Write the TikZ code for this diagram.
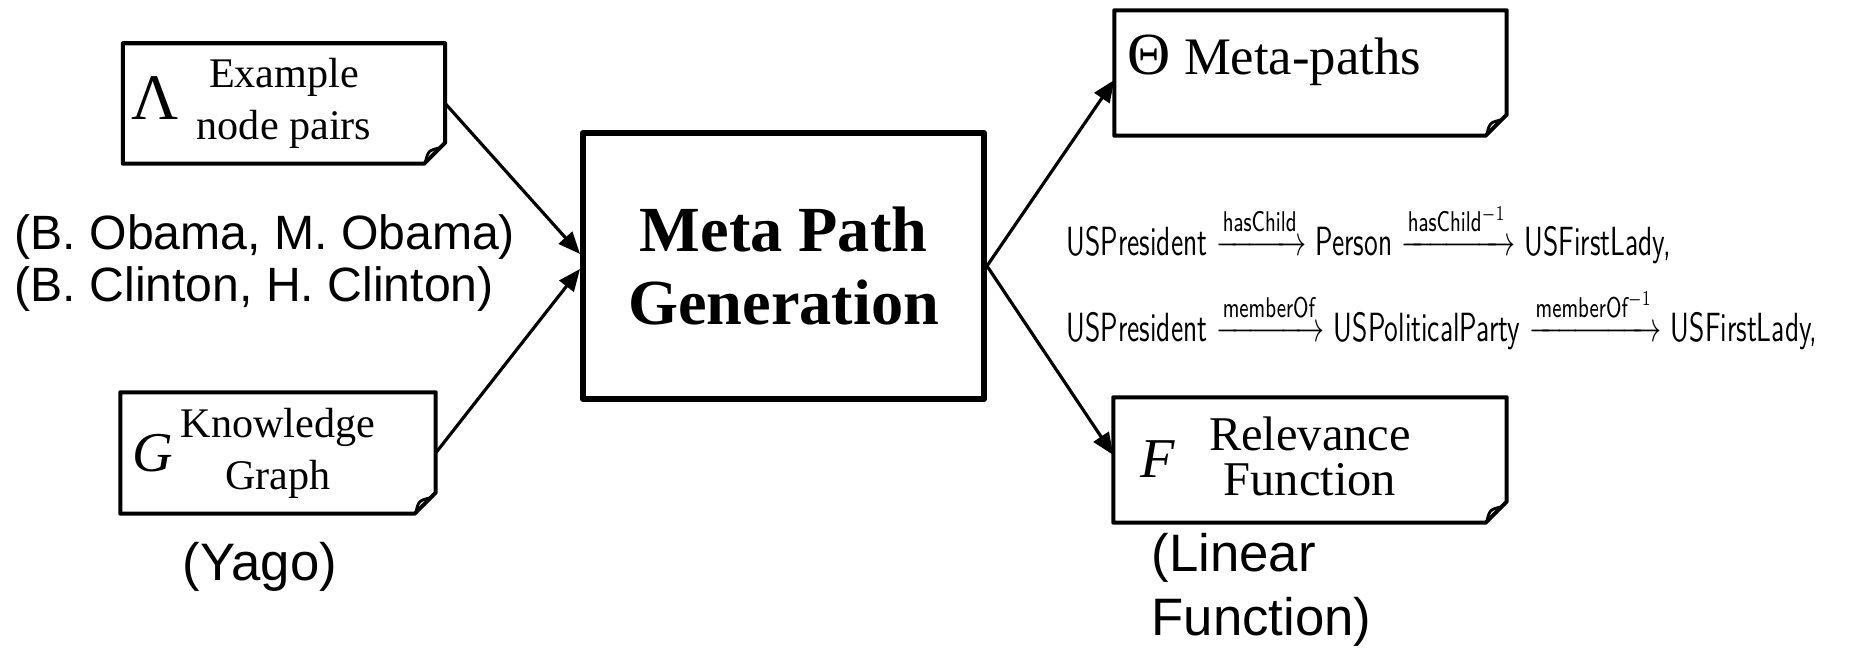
\documentclass[tikz,border=0pt]{standalone}
\usepackage{amsmath}
\usepackage{fontspec}
\setmainfont{Liberation Serif}
\setsansfont{Liberation Sans}
\newfontfamily\pathfont{Latin Modern Sans}
\usepackage{tikz}
\usetikzlibrary{arrows.meta}
\tikzset{
	notebox/.style={inner sep=0pt, align=center, font=\fontsize{12pt}{14.8pt}\selectfont},
	noteline/.style={line width=1.15pt, line join=round},
	genbox/.style={draw, line width=1.7pt, line join=round, inner sep=0pt, align=center, font=\bfseries\fontsize{18.3pt}{21pt}\selectfont},
	flow/.style={line width=0.9pt, -{Triangle[length=0.22cm,width=0.18cm]}},
	sym/.style={inner sep=0pt, anchor=base west},
	caption/.style={inner sep=0pt, font=\sffamily\fontsize{13.7pt}{16pt}\selectfont},
	bigcaption/.style={inner sep=0pt, align=left, font=\sffamily\fontsize{15pt}{18pt}\selectfont},
	pathline/.style={inner sep=0pt, anchor=west, font=\pathfont\fontsize{11.6pt}{13pt}\selectfont}
}
\begin{document}
\begin{tikzpicture}
	\useasboundingbox (0,0) rectangle (18.52,6.48);
	\node[notebox, minimum width=3.21cm, minimum height=1.19cm] (lam) at (2.84,5.445) {Example\\node pairs};
	\node[notebox, minimum width=3.14cm, minimum height=1.20cm] (kg) at (2.78,1.95) {Knowledge\\Graph};
	\node[notebox, minimum width=3.91cm, minimum height=1.24cm] (theta) at (13.105,5.75) {};
	\node[notebox, minimum width=3.92cm, minimum height=1.24cm, font=\fontsize{13.8pt}{17pt}\selectfont] (rel) at (13.10,1.88) {\raisebox{0.08cm}{\shortstack{Relevance\\[0.02cm]Function}}};
	\node[genbox, minimum width=4.01cm, minimum height=2.66cm] (gen) at (7.835,3.82) {Meta Path\\Generation};
	\foreach \n in {lam,kg,theta,rel}{
		\draw[noteline] (\n.north west) -- (\n.north east) -- ([yshift=0.21cm]\n.south east) -- ([xshift=-0.21cm]\n.south east) -- (\n.south west) -- cycle;
		\draw[line width=0.8pt] ([xshift=-0.2cm,yshift=0.01cm]\n.south east) .. controls ([xshift=-0.17cm,yshift=0.13cm]\n.south east) .. ([xshift=-0.05cm,yshift=0.16cm]\n.south east);
	}
	\node[sym, font=\fontsize{18.5pt}{20pt}\selectfont] (lamsym) at (1.31,5.28) {Λ};
	\node[sym, font=\itshape\fontsize{16pt}{18pt}\selectfont] (kgsym) at (1.32,1.76) {G};
	\node[sym, font=\itshape\fontsize{16pt}{18pt}\selectfont] (relsym) at (11.40,1.70) {F};
	\node[sym, font=\fontsize{15pt}{18pt}\selectfont] (thetatext) at (11.27,5.73) {{\fontsize{17pt}{20pt}\selectfont Θ} Meta-paths};
	\draw[flow] (lam.east) -- ([yshift=0.12cm]gen.west);
	\draw[flow] (kg.east) -- ([yshift=-0.03cm]gen.west);
	\draw[flow] (gen.east) -- ([yshift=-0.07cm]theta.west);
	\draw[flow] (gen.east) -- ([yshift=0.05cm]rel.west);
	\node[caption, anchor=west] (obama) at (0.14,4.11) {(B. Obama, M. Obama)};
	\node[caption, anchor=west] (clinton) at (0.14,3.59) {(B. Clinton, H. Clinton)};
	\node[bigcaption] (yago) at (2.60,0.81) {(Yago)};
	\node[bigcaption, anchor=west] (linear) at (11.51,0.58) {(Linear\\Function)};
	\node[pathline] (mpone) at (10.66,4.15) {\scalebox{0.69}[1]{USPresident $\xrightarrow{\text{hasChild}}$ Person $\xrightarrow{\text{hasChild}^{-1}}$ USFirstLady,}};
	\node[pathline] (mptwo) at (10.66,3.29) {\scalebox{0.69}[1]{USPresident $\xrightarrow{\text{memberOf}}$ USPoliticalParty $\xrightarrow{\text{memberOf}^{-1}}$ USFirstLady,}};
\end{tikzpicture}
\end{document}
